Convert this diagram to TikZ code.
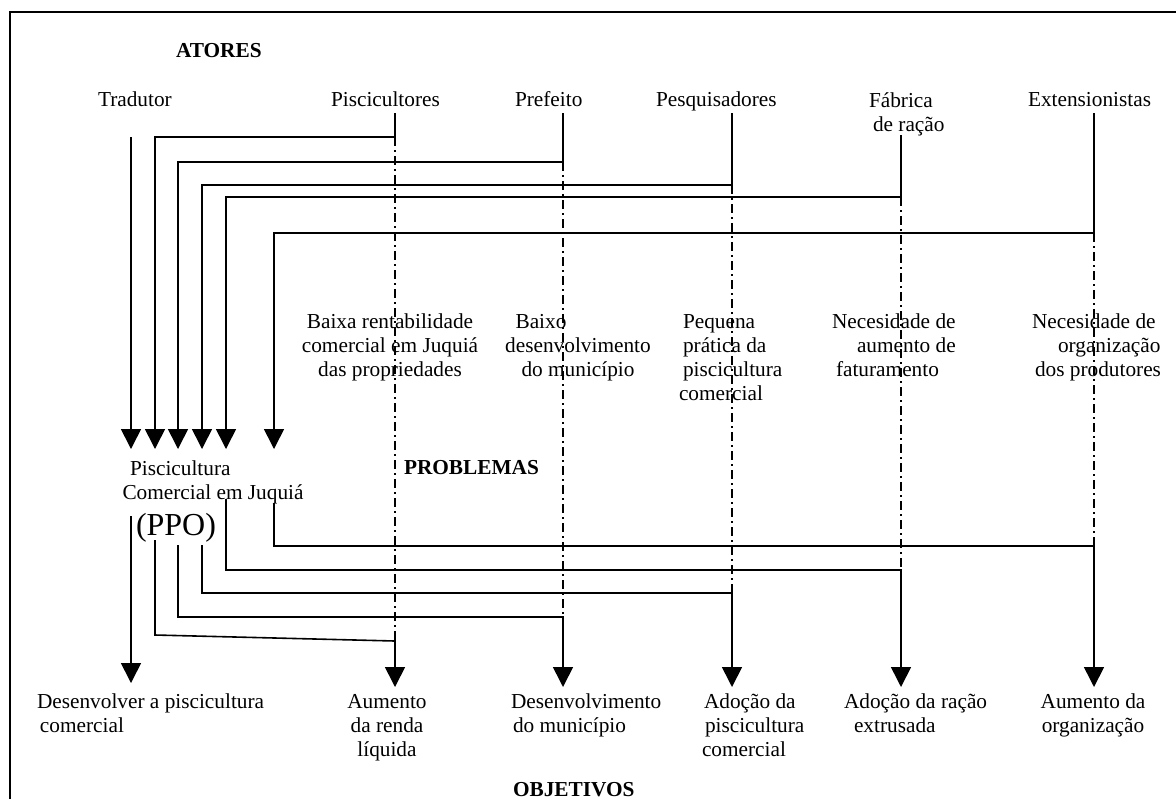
\documentclass[tikz,border=0pt]{standalone}
\usepackage{fontspec}
\setmainfont{Liberation Serif}
\usetikzlibrary{arrows.meta}
\begin{document}
\begin{tikzpicture}[x=0.5pt,y=-0.5pt,
  every node/.style={inner sep=0pt, outer sep=0pt, font=\fontsize{10.65}{12}\selectfont},
  txt/.style={anchor=base west, align=left},
  ctxt/.style={anchor=base, align=center},
  hd/.style={anchor=base west, font=\fontsize{10.65}{12}\selectfont\bfseries},
  conn/.style={line width=0.8pt},
  dd/.style={line width=0.8pt, dash pattern=on 4.5pt off 2pt on 1pt off 2pt},
  arr/.style={line width=0.8pt, -{Triangle[width=10pt,length=10pt]}},
]
\useasboundingbox (0,0) rectangle (1176,799);
\draw[line width=0.8pt] (10,799) -- (10,12) -- (1176,12);

% ---------- actors ----------
\node[hd] (atores) at (176,57) {ATORES};
\node[txt] (trad) at (98,106) {Tradutor};
\node[txt] (pisc) at (331,106) {Piscicultores};
\node[txt] (pref) at (515,106) {Prefeito};
\node[txt] (pesq) at (656,106) {Pesquisadores};
\node[txt] (fab) at (869,131) {Fábrica\\\hspace*{2pt}de ração};
\node[txt] (ext) at (1028,106) {Extensionistas};

% ---------- problems ----------
\node[ctxt] (pb1) at (390,376) {Baixa rentabilidade\\comercial em Juquiá\\das propriedades};
\node[ctxt] (pb2) at (578,376) {Baixo\hspace*{37pt}\\desenvolvimento\\do município};
\node[txt] (pb3) at (679,400) {\hspace*{2pt}Pequena\\\hspace*{2pt}prática da\\\hspace*{2pt}piscicultura\\comercial};
\node[txt] (pb4) at (832,376) {Necesidade de\\\hspace*{12.5pt}aumento de\\\hspace*{2pt}faturamento};
\node[txt] (pb5) at (1032,376) {Necesidade de\\\hspace*{13pt}organização\\\hspace*{1.5pt}dos produtores};
\node[hd] (problemas) at (404,474) {PROBLEMAS};

% ---------- PPO ----------
\node[txt] (ppo) at (122.5,499) {\hspace*{3.75pt}Piscicultura\\Comercial em Juquiá};
\node[anchor=base west, font=\fontsize{16}{18}\selectfont] (ppoabbr) at (136,535) {(PPO)};

% ---------- objectives ----------
\node[txt] (ob1) at (37,732) {Desenvolver a piscicultura\\\hspace*{1.5pt}comercial};
\node[ctxt] (ob2) at (387,756) {Aumento\\da renda\\líquida};
\node[txt] (ob3) at (511,732) {Desenvolvimento\\\hspace*{1pt}do município};
\node[txt] (ob4) at (702,756) {\hspace*{1pt}Adoção da\\\hspace*{1.5pt}piscicultura\\comercial};
\node[txt] (ob5) at (844,732) {Adoção da ração\\\hspace*{5pt}extrusada};
\node[ctxt] (ob6) at (1093,732) {Aumento da\\organização};
\node[hd] (objetivos) at (513,796) {OBJETIVOS};

% ---------- coordinates ----------
\coordinate (t0) at (131,137);
\coordinate (s2) at (395,113);  \coordinate (j2) at (395,137);
\coordinate (s3) at (563,113);  \coordinate (j3) at (563,162);
\coordinate (s4) at (732,113);  \coordinate (j4) at (732,185);
\coordinate (s5) at (901,135);  \coordinate (j5) at (901,197);
\coordinate (s6) at (1094,113); \coordinate (j6) at (1094,233);

\coordinate (i1) at (131,449);
\coordinate (i2) at (155,449);
\coordinate (i3) at (178,449);
\coordinate (i4) at (202,449);
\coordinate (i5) at (226,449);
\coordinate (i6) at (274,449);

\coordinate (k2) at (395,641);
\coordinate (k3) at (563,617);
\coordinate (k4) at (732,593);
\coordinate (k5) at (901,570);
\coordinate (k6) at (1094,546);

\coordinate (o1) at (131,516);
\coordinate (o2) at (155,540); \coordinate (b2) at (155,635);
\coordinate (o3) at (178,545);
\coordinate (o4) at (202,545);
\coordinate (o5) at (226,499);
\coordinate (o6) at (274,503);

\coordinate (e1) at (131,683);
\coordinate (e2) at (395,687);
\coordinate (e3) at (563,687);
\coordinate (e4) at (732,687);
\coordinate (e5) at (901,687);
\coordinate (e6) at (1094,687);

% ---------- actor -> PPO ----------
\draw[arr] (t0) -- (i1);
\draw[conn] (s2) -- (j2); \draw[arr] (j2) -| (i2);
\draw[conn] (s3) -- (j3); \draw[arr] (j3) -| (i3);
\draw[conn] (s4) -- (j4); \draw[arr] (j4) -| (i4);
\draw[conn] (s5) -- (j5); \draw[arr] (j5) -| (i5);
\draw[conn] (s6) -- (j6); \draw[arr] (j6) -| (i6);

% ---------- dash-dot columns ----------
\draw[dd] (j2) -- (k2);
\draw[dd] (j3) -- (k3);
\draw[dd] (j4) -- (k4);
\draw[dd] (j5) -- (k5);
\draw[dd] (j6) -- (k6);

% ---------- PPO -> objectives ----------
\draw[arr] (o1) -- (e1);
\draw[arr] (o2) -- (b2) -- (k2) -- (e2);
\draw[arr] (o3) |- (k3) -- (e3);
\draw[arr] (o4) |- (k4) -- (e4);
\draw[arr] (o5) |- (k5) -- (e5);
\draw[arr] (o6) |- (k6) -- (e6);
\end{tikzpicture}
\end{document}
